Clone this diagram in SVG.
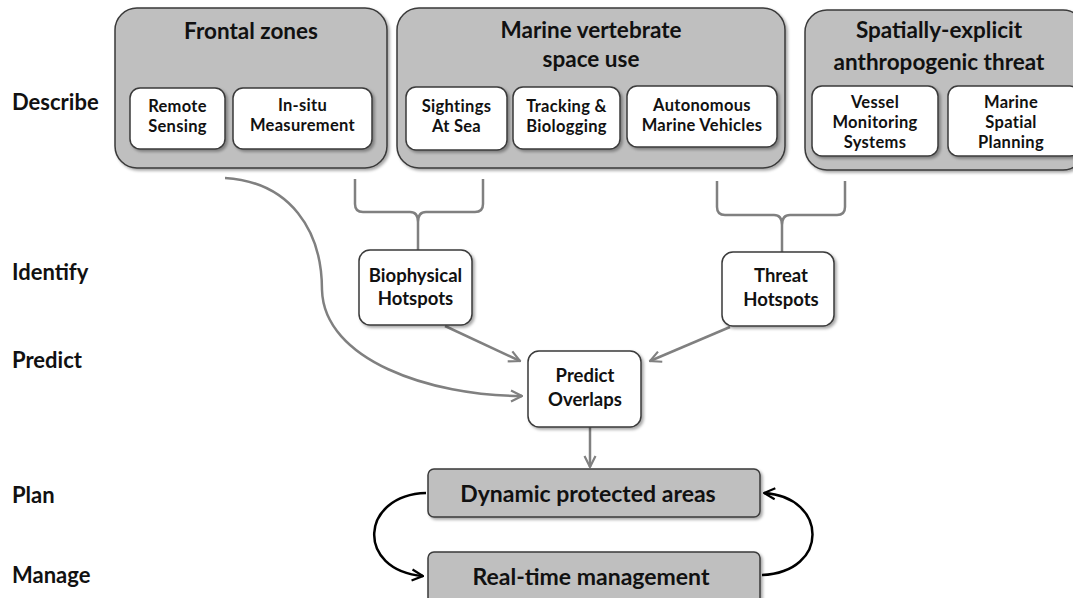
<svg xmlns="http://www.w3.org/2000/svg" width="1073" height="598" viewBox="0 0 1073 598">
<style>
text{font-family:Lato,"Liberation Sans",sans-serif;font-weight:700;fill:#111;text-anchor:middle}
.lbl{text-anchor:start;font-size:22px}
.title{font-size:22.5px}
.inner{font-size:16.5px;letter-spacing:0.3px}
.small{font-size:18.5px}
.big{font-size:23px}
.grp{fill:#bfbfbf;stroke:#3a3a3a;stroke-width:1.5}
.box{fill:#fff;stroke:#3a3a3a;stroke-width:1.5}
.gcon{fill:none;stroke:#808080;stroke-width:2.5}
.bcon{fill:none;stroke:#000;stroke-width:2.5}
</style>
<defs>
<filter id="sh" x="-10%" y="-10%" width="130%" height="130%">
<feDropShadow dx="2" dy="2" stdDeviation="1.5" flood-color="#000" flood-opacity="0.35"/>
</filter>
<marker id="ag" viewBox="0 0 10 10" refX="9" refY="5" markerWidth="5.5" markerHeight="5.5" orient="auto" markerUnits="strokeWidth">
<path d="M1,1 L9,5 L1,9" fill="none" stroke="#808080" stroke-width="1.6"/>
</marker>
<marker id="ab" viewBox="0 0 10 10" refX="9" refY="5" markerWidth="5.5" markerHeight="5.5" orient="auto" markerUnits="strokeWidth">
<path d="M1,1 L9,5 L1,9" fill="none" stroke="#000" stroke-width="1.6"/>
</marker>
</defs>
<rect width="1073" height="598" fill="#fff"/>

<g id="labels">
<text class="lbl" x="12" y="110">Describe</text>
<text class="lbl" x="12" y="280">Identify</text>
<text class="lbl" x="12" y="368">Predict</text>
<text class="lbl" x="12" y="503">Plan</text>
<text class="lbl" x="12" y="583">Manage</text>
</g>

<g id="connectors">
<path class="gcon" d="M225,178 C290,182 322,230 322,290 C324,360 430,396 522,396" marker-end="url(#ag)"/>
<path class="gcon" d="M355,179 V204 Q355,212 363,212 H410 Q418,212 418,222 V250 M483,179 V204 Q483,212 475,212 H426 Q418,212 418,222"/>
<path class="gcon" d="M717,181 V207 Q717,215 725,215 H774 Q782,215 782,225 V252 M845,181 V207 Q845,215 837,215 H790 Q782,215 782,225"/>
<path class="gcon" d="M445,326 L520,361" marker-end="url(#ag)"/>
<path class="gcon" d="M730,327 L650,361" marker-end="url(#ag)"/>
<path class="gcon" d="M590,427 V467" marker-end="url(#ag)"/>
<path class="bcon" d="M426,493 C360,495 355,570 423,576" marker-end="url(#ab)"/>
<path class="bcon" d="M762,575 C830,572 828,497 764,493" marker-end="url(#ab)"/>
</g>

<g id="frontal">
<rect class="grp" x="115" y="8" width="272" height="160" rx="22" filter="url(#sh)"/>
<text class="title" x="251" y="39">Frontal zones</text>
</g>
<g id="remote-sensing">
<rect class="box" x="130" y="88" width="95" height="61" rx="10" filter="url(#sh)"/>
<text class="inner" x="177.5" y="112">Remote</text>
<text class="inner" x="177.5" y="132">Sensing</text>
</g>
<g id="in-situ">
<rect class="box" x="233" y="88" width="139" height="61" rx="10" filter="url(#sh)"/>
<text class="inner" x="302.5" y="111">In-situ</text>
<text class="inner" x="302.5" y="131">Measurement</text>
</g>

<g id="marine">
<rect class="grp" x="397" y="8" width="388" height="160" rx="22" filter="url(#sh)"/>
<text class="title" x="591" y="38">Marine vertebrate</text>
<text class="title" x="591" y="67">space use</text>
</g>
<g id="sightings">
<rect class="box" x="406" y="87" width="101" height="63" rx="10" filter="url(#sh)"/>
<text class="inner" x="456.5" y="112">Sightings</text>
<text class="inner" x="456.5" y="132">At Sea</text>
</g>
<g id="tracking">
<rect class="box" x="513" y="87" width="107" height="62" rx="10" filter="url(#sh)"/>
<text class="inner" x="566.5" y="112">Tracking &amp;</text>
<text class="inner" x="566.5" y="132">Biologging</text>
</g>
<g id="autonomous">
<rect class="box" x="627" y="86" width="150" height="61" rx="10" filter="url(#sh)"/>
<text class="inner" x="702" y="110.5">Autonomous</text>
<text class="inner" x="702" y="130.5">Marine Vehicles</text>
</g>

<g id="threat">
<rect class="grp" x="805" y="10" width="280" height="160" rx="22" filter="url(#sh)"/>
<text class="title" x="939" y="38">Spatially-explicit</text>
<text class="title" x="939" y="70">anthropogenic threat</text>
</g>
<g id="vessel">
<rect class="box" x="812" y="86" width="126" height="70" rx="10" filter="url(#sh)"/>
<text class="inner" x="875" y="108">Vessel</text>
<text class="inner" x="875" y="128">Monitoring</text>
<text class="inner" x="875" y="148">Systems</text>
</g>
<g id="msp">
<rect class="box" x="948" y="86" width="132" height="70" rx="10" filter="url(#sh)"/>
<text class="inner" x="1011" y="108">Marine</text>
<text class="inner" x="1011" y="128">Spatial</text>
<text class="inner" x="1011" y="148">Planning</text>
</g>

<g id="biophysical">
<rect class="box" x="359" y="250" width="113" height="75" rx="11" filter="url(#sh)"/>
<text class="small" x="415.5" y="282">Biophysical</text>
<text class="small" x="415.5" y="305">Hotspots</text>
</g>
<g id="threat-hotspots">
<rect class="box" x="722" y="252" width="112" height="74" rx="11" filter="url(#sh)"/>
<text class="small" x="781" y="282">Threat</text>
<text class="small" x="781" y="306">Hotspots</text>
</g>
<g id="predict">
<rect class="box" x="528" y="351" width="113" height="76" rx="11" filter="url(#sh)"/>
<text class="small" x="585" y="382">Predict</text>
<text class="small" x="585" y="406">Overlaps</text>
</g>
<g id="dynamic">
<rect class="grp" x="428" y="469" width="332" height="48" rx="6" filter="url(#sh)"/>
<text class="big" x="588" y="502">Dynamic protected areas</text>
</g>
<g id="realtime">
<rect class="grp" x="428" y="552" width="332" height="52" rx="6" filter="url(#sh)"/>
<text class="big" x="591" y="585">Real-time management</text>
</g>
</svg>
